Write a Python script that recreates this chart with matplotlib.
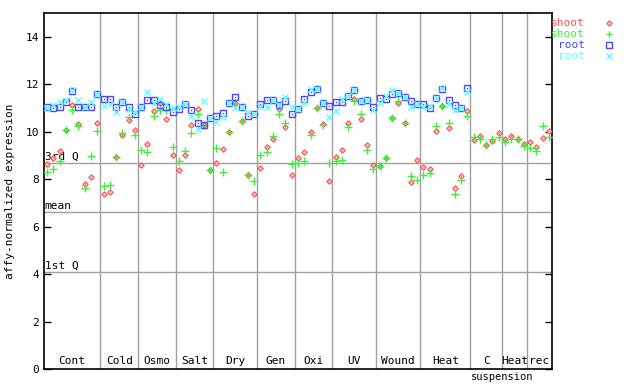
import matplotlib
matplotlib.use("Agg")
from matplotlib import pyplot as plt

# groups along the x axis (samples per group)
group_names = ["Cont", "Cold", "Osmo", "Salt", "Dry", "Gen", "Oxi", "UV",
               "Wound", "Heat", "C", "Heat", "rec"]
group_sizes = [9, 6, 6, 6, 7, 6, 6, 7, 7, 8, 5, 4, 4]

shoot_red = [8.63, 8.88, 9.18, 10.08, 11.12, 10.34, 7.80, 8.10, 10.35,
             7.37, 7.46, 8.95, 9.85, 10.50, 10.08,
             8.60, 9.47, 10.86, 11.20, 10.53, 9.02,
             8.39, 9.02, 10.27, 10.96, 10.30, 8.39,
             8.67, 9.26, 9.97, 11.20, 10.44, 8.16, 7.37,
             8.46, 9.37, 9.68, 10.95, 10.20, 8.18,
             8.90, 9.13, 9.97, 10.99, 10.34, 7.94,
             8.95, 9.21, 10.35, 11.37, 10.52, 9.42, 8.60,
             8.56, 8.88, 10.56, 11.22, 10.35, 7.88, 8.80,
             8.50, 8.42, 10.01, 11.10, 10.15, 7.62, 8.14, 10.88,
             9.64, 9.80, 9.44, 9.61, 9.94,
             9.70, 9.82, 9.69, 9.47,
             9.56, 9.37, 9.75, 10.02]
shoot_green = [8.31, 8.42, 8.76, 10.08, 10.92, 10.25, 7.61, 8.98, 10.03,
               7.72, 7.75, 8.92, 9.95, 10.60, 9.85,
               9.22, 9.13, 10.65, 10.92, 10.91, 9.35,
               8.76, 9.19, 9.95, 10.74, 10.30, 8.39,
               9.30, 8.31, 9.97, 11.20, 10.44, 8.16, 7.92,
               9.02, 9.13, 9.81, 10.74, 10.35, 8.62,
               8.66, 8.76, 9.85, 10.99, 10.30, 8.67,
               8.77, 8.80, 10.21, 11.30, 10.73, 9.23, 8.42,
               8.56, 8.88, 10.56, 11.28, 10.35, 8.14, 7.96,
               8.18, 8.25, 10.22, 11.10, 10.36, 7.37, 7.96, 10.64,
               9.78, 9.68, 9.42, 9.68, 9.78,
               9.56, 9.68, 9.69, 9.41,
               9.30, 9.20, 10.22, 9.77]
root_blue = [11.03, 10.99, 11.05, 11.25, 11.70, 11.03, 11.03, 11.03, 11.57,
             11.37, 11.37, 11.03, 11.25, 11.03, 10.75,
             11.03, 11.34, 11.34, 11.12, 11.03, 10.82,
             10.95, 11.16, 10.92, 10.36, 10.28, 10.56,
             10.65, 10.77, 11.20, 11.48, 11.03, 10.66, 10.75,
             11.16, 11.34, 11.34, 11.12, 11.28, 10.75,
             10.94, 11.36, 11.69, 11.78, 11.22, 11.10,
             11.24, 11.24, 11.52, 11.76, 11.28, 11.34, 11.06,
             11.40, 11.37, 11.57, 11.61, 11.48, 11.28, 11.15,
             11.16, 10.99, 11.41, 11.80, 11.34, 11.13, 10.99, 11.83]
root_cyan = [10.99, 11.12, 11.26, 11.34, 11.76, 11.34, 11.03, 11.25, 11.57,
             11.07, 11.17, 10.82, 11.25, 10.96, 10.82,
             11.03, 11.67, 11.20, 11.37, 11.16, 10.99,
             11.03, 11.16, 10.68, 10.11, 11.28, 10.56,
             10.40, 10.60, 11.20, 10.99, 11.03, 10.84, 10.75,
             11.08, 11.03, 11.34, 11.12, 11.46, 11.03,
             10.94, 11.20, 11.78, 11.78, 11.22, 10.60,
             10.88, 11.37, 11.52, 11.76, 11.28, 11.34, 10.92,
             11.22, 11.51, 11.76, 11.61, 11.48, 11.03, 11.15,
             11.02, 11.10, 11.41, 11.83, 11.16, 10.92, 10.99, 11.66]

ref_labels = ["3rd Q", "mean", "1st Q"]
ref_values = [8.68, 6.60, 4.07]

FONT = "DejaVu Sans Mono"
fig = plt.figure(figsize=(6.4, 3.84), dpi=100)
ax = fig.add_axes([44 / 640, 1 - 369 / 384, 508 / 640, 356 / 384])

n_total = sum(group_sizes)
ax.set_xlim(-0.5, n_total - 0.5)
ax.set_ylim(0, 15)

# reference lines
for lab, val in zip(ref_labels, ref_values):
    ax.axhline(val, color="#a0a0a0", lw=1, zorder=1)
    ax.text(-0.4, val + 0.05, lab, family=FONT, fontsize=8, va="bottom", ha="left", zorder=2)

# group dividers and labels
start = 0
for name, size in zip(group_names, group_sizes):
    end = start + size
    if end < n_total:
        ax.axvline(end - 0.5, color="#a0a0a0", lw=1, zorder=1)
    ax.text((start + end - 1) / 2, 0.12, name, family=FONT, fontsize=8,
            ha="center", va="bottom")
    start = end
ax.text(68 + 5 - 0.5, -0.33, "suspension", family=FONT, fontsize=7.5,
        ha="center", va="center", clip_on=False)

xr = range(len(shoot_red))
xb = range(len(root_blue))
ax.plot(xr, shoot_red, ls="none", marker="D", ms=2.8, mfc="#ffc0c0", mec="#ff5050", mew=0.8, zorder=3)
ax.plot(xr, shoot_green, ls="none", marker="+", ms=6, mec="#40ee40", mew=1, zorder=3)
ax.plot(xb, root_blue, ls="none", marker="s", ms=5, mfc="none", mec="#4848ff", mew=1, zorder=4)
ax.plot(xb, root_blue, ls="none", marker="s", ms=1, mfc="#4848ff", mec="none", zorder=4)
ax.plot(xb, root_cyan, ls="none", marker="x", ms=4.5, mec="#60ffff", mew=1, zorder=4)

ax.set_yticks(range(0, 15, 2))
ax.set_xticks([])
ax.tick_params(axis="y", direction="in", length=5, right=True, labelsize=8, width=1)
for t in ax.get_yticklabels():
    t.set_family(FONT)
for s in ax.spines.values():
    s.set_linewidth(1.2)
ax.set_ylabel("affy-normalized expression", family=FONT, fontsize=8, labelpad=8)

# legend on the right
leg = [("shoot", "#ff5050", "D"), ("shoot", "#40ee40", "+"),
       ("root", "#4848ff", "s"), ("root", "#60ffff", "x")]
for k, (lab, col, mk) in enumerate(leg):
    yp = 1 - (23.3 + 11 * k) / 384
    fig.text(585 / 640, yp, lab, color=col, family=FONT, fontsize=8, ha="right", va="center")
    if mk == "D":
        fig.lines.append(plt.Line2D([609 / 640], [yp], marker="D", ms=2.8, mfc="#ffc0c0", mec=col,
                                    mew=0.8, transform=fig.transFigure))
    elif mk == "s":
        fig.lines.append(plt.Line2D([609 / 640], [yp], marker="s", ms=5, mfc="none", mec=col,
                                    mew=1, transform=fig.transFigure))
    else:
        fig.lines.append(plt.Line2D([609 / 640], [yp], marker=mk, ms=5, mec=col,
                                    mew=1, transform=fig.transFigure))

fig.savefig("out.png", dpi=100)
